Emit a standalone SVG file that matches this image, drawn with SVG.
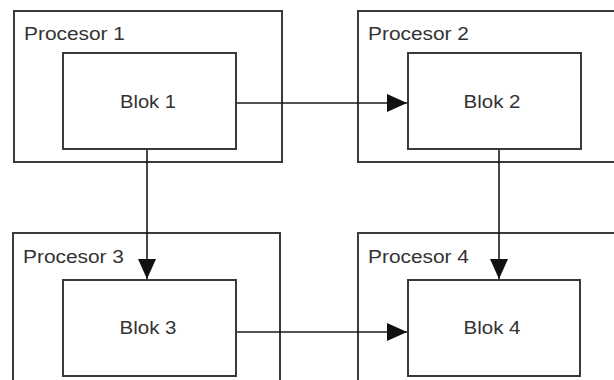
<svg xmlns="http://www.w3.org/2000/svg" width="614" height="380" viewBox="0 0 614 380">
  <style>
    .proc { fill: #ffffff; stroke: #3a3a3a; stroke-width: 2; }
    .blok { fill: #ffffff; stroke: #3a3a3a; stroke-width: 2; }
    .lbl { font-family: "Liberation Sans", Arial, sans-serif; font-size: 18px; fill: #333333; }
    .mid { text-anchor: middle; }
    .edge { fill: none; stroke: #1a1a1a; stroke-width: 1.6; }
  </style>
  <defs>
    <marker id="arrow" markerUnits="userSpaceOnUse" markerWidth="20" markerHeight="18"
            viewBox="0 0 20 18" refX="20" refY="9" orient="auto">
      <path d="M0,0 L20,9 L0,18 Z" fill="#111111"/>
    </marker>
  </defs>
  <rect width="614" height="380" fill="#ffffff"/>

  <!-- processors with their blocks -->
  <g id="procesor1">
    <rect class="proc" x="14" y="11" width="268" height="151"/>
    <text class="lbl" x="24" y="40" textLength="101" lengthAdjust="spacingAndGlyphs">Procesor 1</text>
  </g>
  <g id="procesor2">
    <rect class="proc" x="358" y="11" width="270" height="151"/>
    <text class="lbl" x="368" y="40" textLength="101" lengthAdjust="spacingAndGlyphs">Procesor 2</text>
  </g>
  <g id="procesor3">
    <rect class="proc" x="13" y="233" width="267" height="160"/>
    <text class="lbl" x="23" y="263" textLength="101" lengthAdjust="spacingAndGlyphs">Procesor 3</text>
  </g>
  <g id="procesor4">
    <rect class="proc" x="358" y="233" width="270" height="160"/>
    <text class="lbl" x="368" y="263" textLength="101" lengthAdjust="spacingAndGlyphs">Procesor 4</text>
  </g>

  <g id="blok1">
    <rect class="blok" x="63" y="53" width="173" height="96"/>
    <text class="lbl mid" x="148" y="108" textLength="56" lengthAdjust="spacingAndGlyphs">Blok 1</text>
  </g>
  <g id="blok2">
    <rect class="blok" x="408" y="53" width="173" height="96"/>
    <text class="lbl mid" x="492" y="108" textLength="57" lengthAdjust="spacingAndGlyphs">Blok 2</text>
  </g>
  <g id="blok3">
    <rect class="blok" x="63" y="280" width="173" height="96"/>
    <text class="lbl mid" x="148" y="334" textLength="57" lengthAdjust="spacingAndGlyphs">Blok 3</text>
  </g>
  <g id="blok4">
    <rect class="blok" x="408" y="280" width="172" height="96"/>
    <text class="lbl mid" x="492" y="334" textLength="57" lengthAdjust="spacingAndGlyphs">Blok 4</text>
  </g>

  <!-- connectors -->
  <g id="connectors">
    <line class="edge" x1="237" y1="103" x2="407" y2="103" marker-end="url(#arrow)"/>
    <line class="edge" x1="147" y1="150" x2="147" y2="279" marker-end="url(#arrow)"/>
    <line class="edge" x1="499" y1="150" x2="499" y2="279" marker-end="url(#arrow)"/>
    <line class="edge" x1="237" y1="332" x2="407" y2="332" marker-end="url(#arrow)"/>
  </g>
</svg>
